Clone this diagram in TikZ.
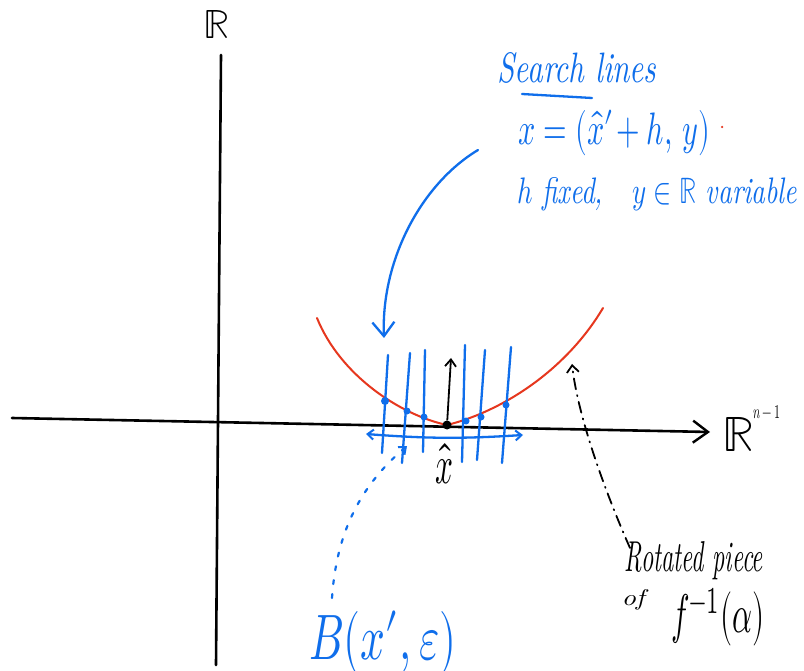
\documentclass[tikz,border=0pt]{standalone}
\usepackage{fontspec}
\usepackage{unicode-math}
\setmathfont{Latin Modern Math}
\usepackage{graphicx}
\usetikzlibrary{arrows.meta}
\definecolor{pen}{RGB}{15,110,235}
\definecolor{redpen}{RGB}{230,55,30}
\tikzset{
  axis/.style={line width=2.6pt, line cap=round},
  bluepen/.style={pen, line width=2.3pt, line cap=round},
  redline/.style={redpen, line width=2pt, line cap=round},
  blacktext/.style={inner sep=0pt, black},
  bluetext/.style={inner sep=0pt, text=pen},
  dotblue/.style={circle, fill=pen, inner sep=0pt, minimum size=7pt},
}
\begin{document}
\begin{tikzpicture}[x=1pt,y=-1pt]
\useasboundingbox (0,0) rectangle (804,671);
\fill[white] (0,0) rectangle (804,671);

% axes
\coordinate (vtop) at (221,55);
\coordinate (vbot) at (216,665);
\coordinate (hleft) at (12,418);
\coordinate (hright) at (710,432);
\draw[axis] (vtop) -- (vbot);
\draw[axis, -{Straight Barb[length=15pt, width=22pt, line width=2.4pt]}] (hleft) -- (hright);
\node[blacktext] (Rtop) at (217,24) {\resizebox{!}{28pt}{$\mathbb{R}$}};
\node[blacktext] (Rn) at (738,434) {\resizebox{!}{34pt}{$\mathbb{R}$}};
\node[blacktext] (Rnsup) at (767,412) {\resizebox{28pt}{13pt}{$n-1$}};

% red curve
\draw[redline] (317,318) .. controls (340,375) and (400,415) .. (447,425)
                         .. controls (500,412) and (565,372) .. (603,308);

% blue search lines
\draw[bluepen] (388,355) -- (382,453);
\draw[bluepen] (410,353) -- (402,463);
\draw[bluepen] (425,350) -- (423,452);
\draw[bluepen] (465,345) -- (462,462);
\draw[bluepen] (485,350) -- (477,460);
\draw[bluepen] (511,347) -- (502,463);

% blue dots on the curve
\node[dotblue, minimum size=8pt] (p1) at (385,401) {};
\node[dotblue] (p2) at (407,411) {};
\node[dotblue] (p3) at (424,417) {};
\node[dotblue] (p4) at (466,421) {};
\node[dotblue] (p5) at (481,417) {};
\node[dotblue] (p6) at (506,405) {};

% minimum point and arrow
\node[circle, fill=black, inner sep=0pt, minimum size=9pt] (xhatpt) at (447,425) {};
\coordinate (uptip) at (451,358);
\draw[line width=1.8pt, -{Straight Barb[length=7pt, width=11pt, line width=1.8pt]}] (xhatpt) -- (uptip);
\node[blacktext] (xhat) at (444,464) {\resizebox{18pt}{40pt}{$\hat{x}$}};

% blue interval bracket
\coordinate (bl) at (366,434);
\coordinate (br) at (523,435);
\draw[bluepen, {Straight Barb[length=6pt, width=10pt, line width=2pt]}-{Straight Barb[length=6pt, width=10pt, line width=2pt]}] (bl) to[bend right=4] (br);

% texts top right
\node[bluetext] (search) at (577,68) {\resizebox{159pt}{30pt}{\itshape Search lines}};
\coordinate (ul1) at (522,94);
\coordinate (ul2) at (592,98);
\draw[bluepen] (ul1) -- (ul2);
\node[bluetext] (eqx) at (614,133) {\resizebox{192pt}{34pt}{$x = (\hat{x}{}'\!+h,\, y)$}};
\node[bluetext, anchor=west] (hfix) at (517,194) {\resizebox{280pt}{26pt}{\itshape $h$ fixed, \ \ $y\in\mathbb{R}$ variable}};
\node[circle, fill=redpen, inner sep=0pt, minimum size=2.5pt] (reddot) at (722,127) {};

% big blue arrow
\coordinate (bigstart) at (478,150);
\coordinate (bigtip) at (384,338);
\draw[bluepen, -{Straight Barb[length=14pt, width=22pt, line width=2.3pt]}] (bigstart) .. controls (420,185) and (381,262) .. (bigtip);

% dash-dot black arrow
\coordinate (ddstart) at (630,548);
\coordinate (ddtip) at (572,364);
\draw[line width=1.8pt, line cap=round, dash pattern=on 11pt off 6pt on 1pt off 6pt, -{Straight Barb[length=7pt, width=12pt, line width=1.8pt]}] (ddstart) .. controls (600,480) and (577,410) .. (ddtip);
\node[blacktext] (rot) at (694,561) {\resizebox{138pt}{30pt}{\itshape Rotated piece}};
\node[blacktext] (of) at (633,600) {\resizebox{23pt}{16pt}{\itshape of}};
\node[blacktext] (finv) at (718,617) {\resizebox{93pt}{45pt}{$f^{-1}(\alpha)$}};

% blue dotted arrow
\coordinate (dotstart) at (332,598);
\coordinate (dottip) at (407,446);
\draw[pen, line width=2.2pt, line cap=round, dash pattern=on 4pt off 10pt, -{Straight Barb[length=6pt, width=10pt, line width=2pt]}] (dotstart) .. controls (336,540) and (355,490) .. (dottip);
\node[bluetext] (ball) at (383,643) {\resizebox{147pt}{48pt}{$B(x{}',\varepsilon)$}};
\end{tikzpicture}
\end{document}
